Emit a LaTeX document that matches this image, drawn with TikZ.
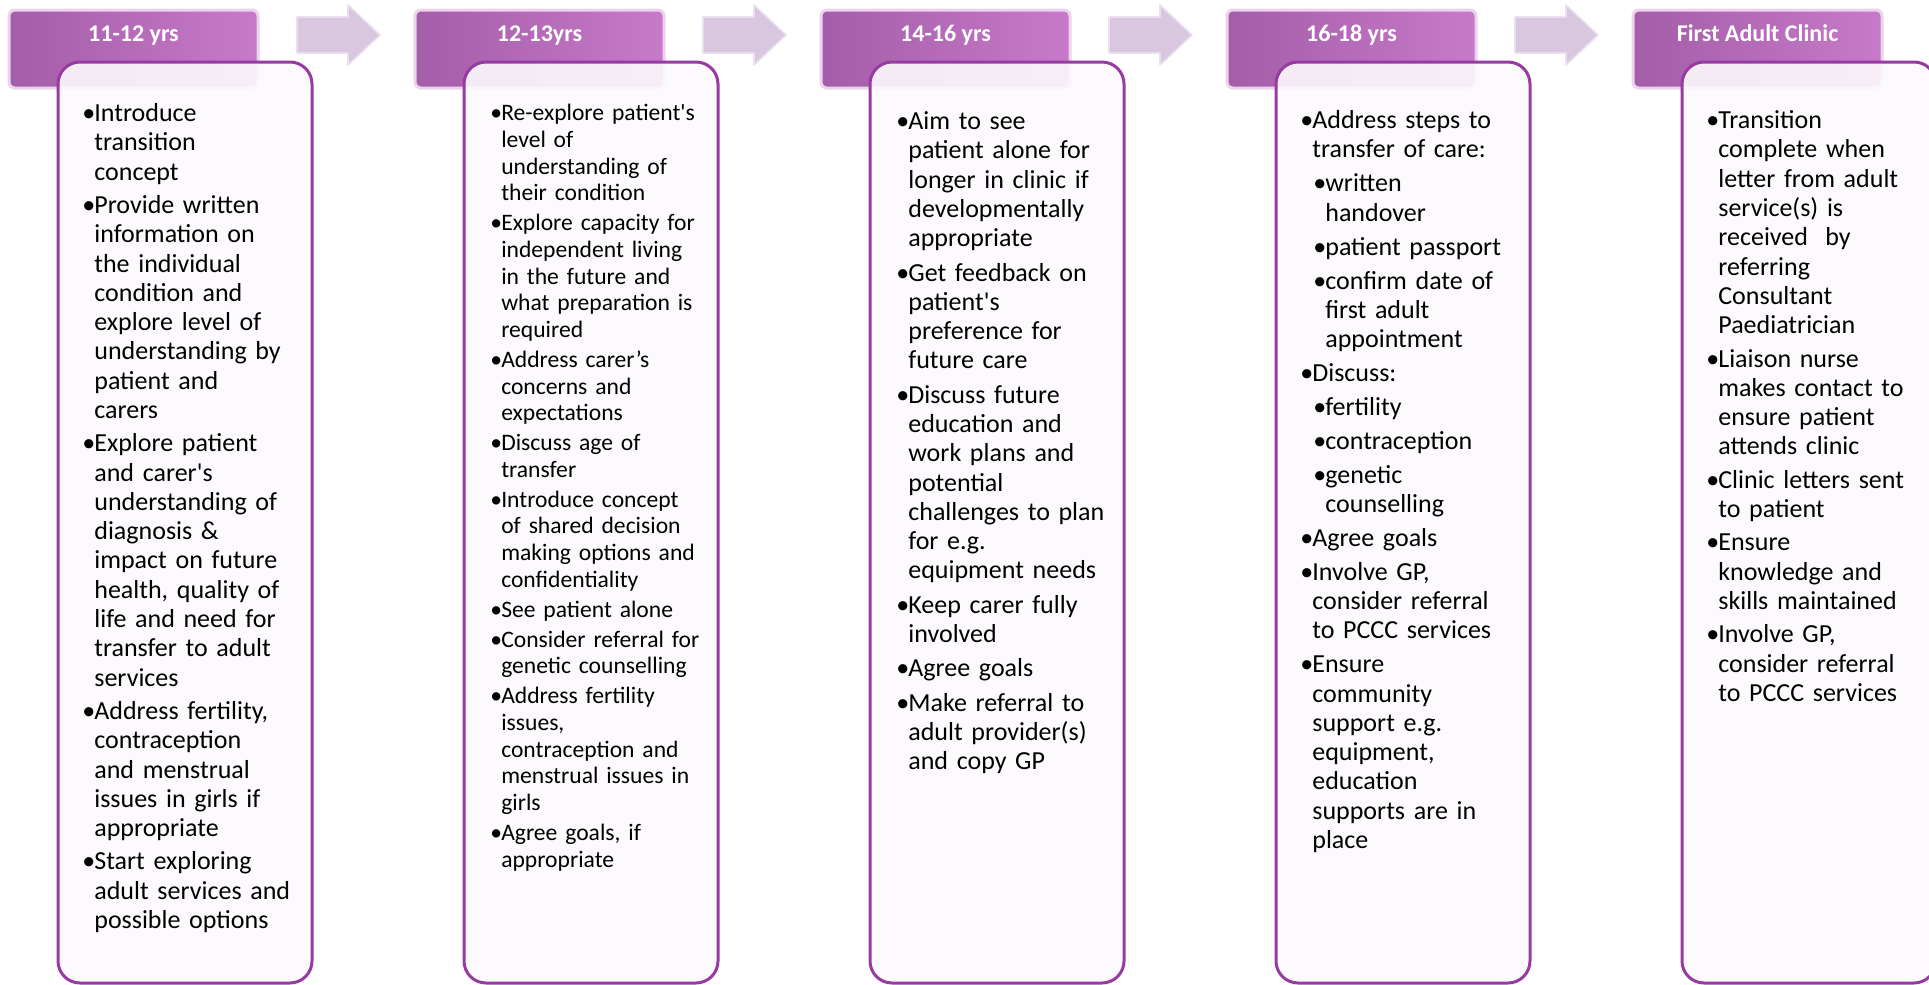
\documentclass[tikz,border=0pt]{standalone}
\usepackage{fontspec}
\setmainfont{Carlito}[Ligatures=TeXOff]
\usetikzlibrary{positioning}
\definecolor{tabdark}{HTML}{A45DA8}
\definecolor{tablight}{HTML}{C77ACA}
\definecolor{tabglow}{HTML}{EBD3EC}
\definecolor{boxline}{HTML}{973BA3}
\definecolor{boxfill}{HTML}{FCFAFD}
\definecolor{arrowfill}{HTML}{D9C7DF}
\definecolor{arrowedge}{HTML}{EADFEE}
% bullet points with hanging indent
\newcommand{\mainpt}[1]{\hangindent=0.46em\noindent\makebox[0.46em][l]{•}#1\par}
\newcommand{\subpt}[1]{\hangindent=0.96em\noindent\hspace*{0.5em}\makebox[0.46em][l]{•}#1\par}
\tikzset{
  stagetab/.style={rectangle, rounded corners=3pt, left color=tabdark, right color=tablight,
                   draw=tabglow, line width=1.5pt, minimum width=124.5pt, minimum height=39pt,
                   inner sep=0, outer sep=0, anchor=north west},
  tablabel/.style={font=\fontsize{12}{14}\selectfont\bfseries, text=white, anchor=base, inner sep=0},
  stagebox/.style={rectangle, rounded corners=11pt, draw=boxline, line width=1.5pt, fill=boxfill,
                   fill opacity=0.9, minimum width=127pt, minimum height=460.5pt,
                   inner sep=0, outer sep=0, anchor=north west},
  itemgap/.style={execute at begin node={\setlength{\parskip}{#1}}},
  steptext/.style={anchor=base west, inner sep=0, text width=125pt, align=left,
                   font=\fontsize{13}{14.65}\selectfont, itemgap=2pt},
  stepflow/.style={fill=arrowfill, draw=arrowedge, line width=0.8pt, line join=round},
}
\begin{document}
\begin{tikzpicture}[x=0.5pt, y=-0.5pt]
  \path[use as bounding box] (0,0) rectangle (1929,985);

  % stage tabs along the top
  \foreach \lab [count=\i from 0] in {11-12 yrs, 12-13yrs, 14-16 yrs, 16-18 yrs, First Adult Clinic}{
    \node[stagetab] (tab\i) at (9+406*\i, 10) {};
    \node[tablabel] (tablab\i) at ([yshift=-15.85pt]tab\i.north) {\lab};
  }

  % block arrows between the tabs
  \foreach \i in {0,...,3}{
    \draw[stepflow, xshift=203pt*\i] (297,17) -- (348,17) -- (348,5) -- (380,35)
         -- (348,65) -- (348,53) -- (297,53) -- cycle;
  }

  % rounded boxes overlapping the tabs
  \foreach \i in {0,...,4}{\node[stagebox] (box\i) at (58+406*\i, 62) {};}

  \node[steptext] (txt0) at (82,121.5) {%
    \mainpt{Introduce\newline transition\newline concept}
    \mainpt{Provide written\newline information on\newline the individual\newline condition and\newline explore level of\newline understanding by\newline patient and\newline carers}
    \mainpt{Explore patient\newline and carer's\newline understanding of\newline diagnosis \&\newline impact on future\newline health, quality of\newline life and need for\newline transfer to adult\newline services}
    \mainpt{Address fertility,\newline contraception\newline and menstrual\newline issues in girls if\newline appropriate}
    \mainpt{Start exploring\newline adult services and\newline possible options}};

  \node[steptext, font=\fontsize{11.8}{13.35}\selectfont, itemgap=1.6pt] (txt1) at (490,120.7) {%
    \mainpt{Re-explore patient's\newline level of\newline understanding of\newline their condition}
    \mainpt{Explore capacity for\newline independent living\newline in the future and\newline what preparation is\newline required}
    \mainpt{Address carer’s\newline concerns and\newline expectations}
    \mainpt{Discuss age of\newline transfer}
    \mainpt{Introduce concept\newline of shared decision\newline making options and\newline confidentiality}
    \mainpt{See patient alone}
    \mainpt{Consider referral for\newline genetic counselling}
    \mainpt{Address fertility\newline issues,\newline contraception and\newline menstrual issues in\newline girls}
    \mainpt{Agree goals, if\newline appropriate}};

  \node[steptext, itemgap=2.5pt] (txt2) at (896,129.5) {%
    \mainpt{Aim to see\newline patient alone for\newline longer in clinic if\newline developmentally\newline appropriate}
    \mainpt{Get feedback on\newline patient's\newline preference for\newline future care}
    \mainpt{Discuss future\newline education and\newline work plans and\newline potential\newline challenges to plan\newline for e.g.\newline equipment needs}
    \mainpt{Keep carer fully\newline involved}
    \mainpt{Agree goals}
    \mainpt{Make referral to\newline adult provider(s)\newline and copy GP}};

  \node[steptext, itemgap=2.3pt] (txt3) at (1300,128.7) {%
    \mainpt{Address steps to\newline transfer of care:}
    \subpt{written\newline handover}
    \subpt{patient passport}
    \subpt{confirm date of\newline first adult\newline appointment}
    \mainpt{Discuss:}
    \subpt{fertility}
    \subpt{contraception}
    \subpt{genetic\newline counselling}
    \mainpt{Agree goals}
    \mainpt{Involve GP,\newline consider referral\newline to PCCC services}
    \mainpt{Ensure\newline community\newline support e.g.\newline equipment,\newline education\newline supports are in\newline place}};

  \node[steptext] (txt4) at (1706,128.7) {%
    \mainpt{Transition\newline complete when\newline letter from adult\newline service(s) is\newline received~ by\newline referring\newline Consultant\newline Paediatrician}
    \mainpt{Liaison nurse\newline makes contact to\newline ensure patient\newline attends clinic}
    \mainpt{Clinic letters sent\newline to patient}
    \mainpt{Ensure\newline knowledge and\newline skills maintained}
    \mainpt{Involve GP,\newline consider referral\newline to PCCC services}};
\end{tikzpicture}
\end{document}
